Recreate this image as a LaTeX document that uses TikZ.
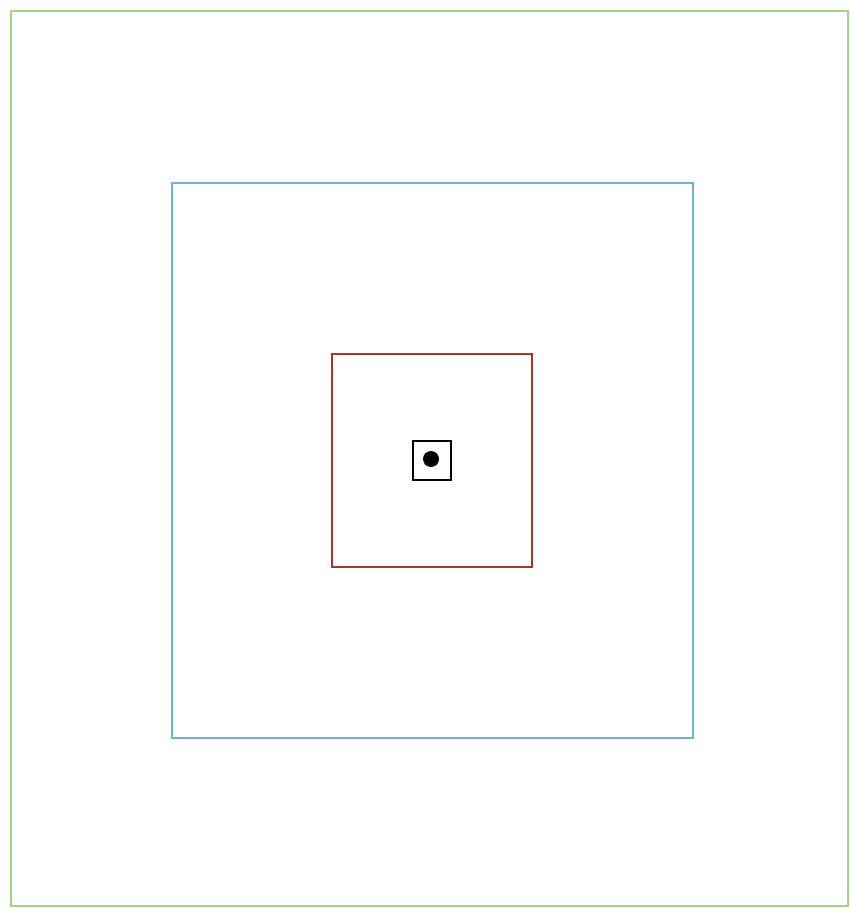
\documentclass[tikz,border=0pt]{standalone}
\definecolor{gframe}{RGB}{160,215,130}
\definecolor{bframe}{RGB}{115,178,205}
\definecolor{rframe}{RGB}{165,55,40}
\begin{document}
\begin{tikzpicture}[x=1pt,y=-1pt,
  frame/.style={line width=2.4pt},
]
\useasboundingbox[fill=white] (0,0) rectangle (850,909);
\draw[frame,gframe] (11,11) rectangle (848,906);
\draw[frame,bframe] (172,183) rectangle (693,738);
\draw[frame,rframe] (332,354) rectangle (532,567);
\draw[line width=2.8pt,black] (413,441) rectangle (451,480);
\fill[black] (431,459) circle (8);
\end{tikzpicture}
\end{document}
